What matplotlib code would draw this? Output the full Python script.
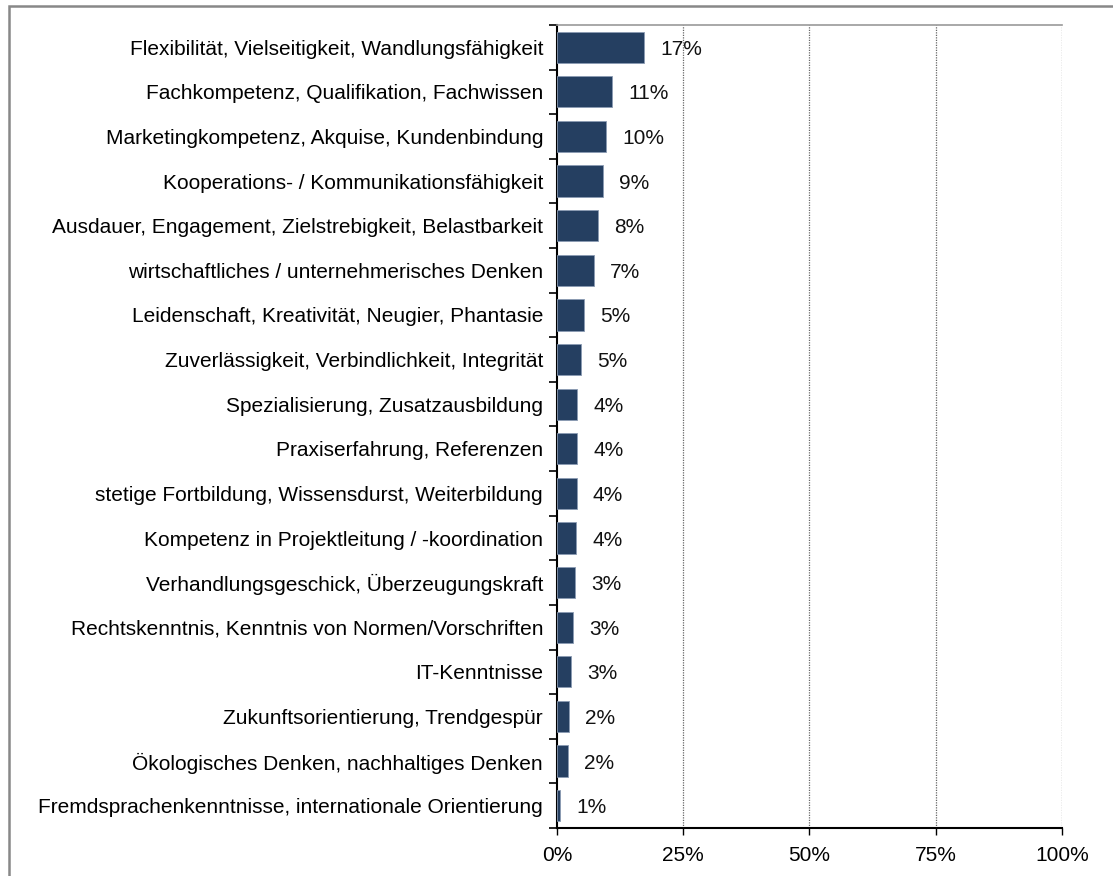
import numpy as np
import matplotlib.pyplot as plt
from matplotlib.patches import Rectangle

categories = [
    'Flexibilität, Vielseitigkeit, Wandlungsfähigkeit',
    'Fachkompetenz, Qualifikation, Fachwissen',
    'Marketingkompetenz, Akquise, Kundenbindung',
    'Kooperations- / Kommunikationsfähigkeit',
    'Ausdauer, Engagement, Zielstrebigkeit, Belastbarkeit',
    'wirtschaftliches / unternehmerisches Denken',
    'Leidenschaft, Kreativität, Neugier, Phantasie',
    'Zuverlässigkeit, Verbindlichkeit, Integrität',
    'Spezialisierung, Zusatzausbildung',
    'Praxiserfahrung, Referenzen',
    'stetige Fortbildung, Wissensdurst, Weiterbildung',
    'Kompetenz in Projektleitung / -koordination',
    'Verhandlungsgeschick, Überzeugungskraft',
    'Rechtskenntnis, Kenntnis von Normen/Vorschriften',
    'IT-Kenntnisse',
    'Zukunftsorientierung, Trendgespür',
    'Ökologisches Denken, nachhaltiges Denken',
    'Fremdsprachenkenntnisse, internationale Orientierung',
]
values = [17.2, 10.9, 9.7, 9.1, 8.1, 7.3, 5.3, 4.75, 4.0, 4.0, 3.9, 3.8, 3.5, 3.2, 2.8, 2.4, 2.2, 0.6]
labels = ['17%', '11%', '10%', '9%', '8%', '7%', '5%', '5%', '4%', '4%', '4%', '4%',
          '3%', '3%', '3%', '2%', '2%', '1%']
xticks = [0, 25, 50, 75, 100]
xticklabels = ['0%', '25%', '50%', '75%', '100%']

plt.rcParams['font.family'] = ['Liberation Sans', 'DejaVu Sans']

fig = plt.figure(figsize=(11.13, 8.76), dpi=100)
ax = fig.add_axes([0.5004, 0.0548, 0.4537, 0.9167])

n = len(categories)
y = np.arange(n)
ax.barh(y, values, height=0.70, color='#253f61', edgecolor='#8a9bb3', linewidth=0.6, zorder=3)
for yi, v, lab in zip(y, values, labels):
    ax.text(v + 3.2, yi, lab, va='center_baseline', ha='left', fontsize=15, color='#111111', zorder=4)

ax.set_xlim(0, 100)
ax.set_ylim(n - 0.5, -0.5)
ax.set_yticks(y)
ax.set_yticklabels(categories, fontsize=15)
ax.tick_params(axis='y', which='major', length=0, pad=10)
ax.set_yticks(np.arange(-0.5, n, 1), minor=True)
ax.tick_params(axis='y', which='minor', length=6, width=1.2, direction='out')
ax.set_xticks(xticks)
ax.set_xticklabels(xticklabels, fontsize=15)
ax.tick_params(axis='x', length=5, width=1, direction='out', pad=8)

for xv in xticks[1:]:
    ax.axvline(xv, color='#666666', linestyle=(0, (1, 1)), linewidth=0.9, zorder=1)

ax.spines['left'].set_linewidth(1.5)
ax.spines['bottom'].set_linewidth(1.5)
ax.spines['top'].set_color('#999999')
ax.spines['top'].set_linewidth(1.2)
ax.spines['right'].set_visible(False)

fig.patches.append(Rectangle((0.008, -0.05), 1.05, 1.043, transform=fig.transFigure,
                             fill=False, edgecolor='#888888', linewidth=1.8))

plt.savefig('out.png', dpi=100)
